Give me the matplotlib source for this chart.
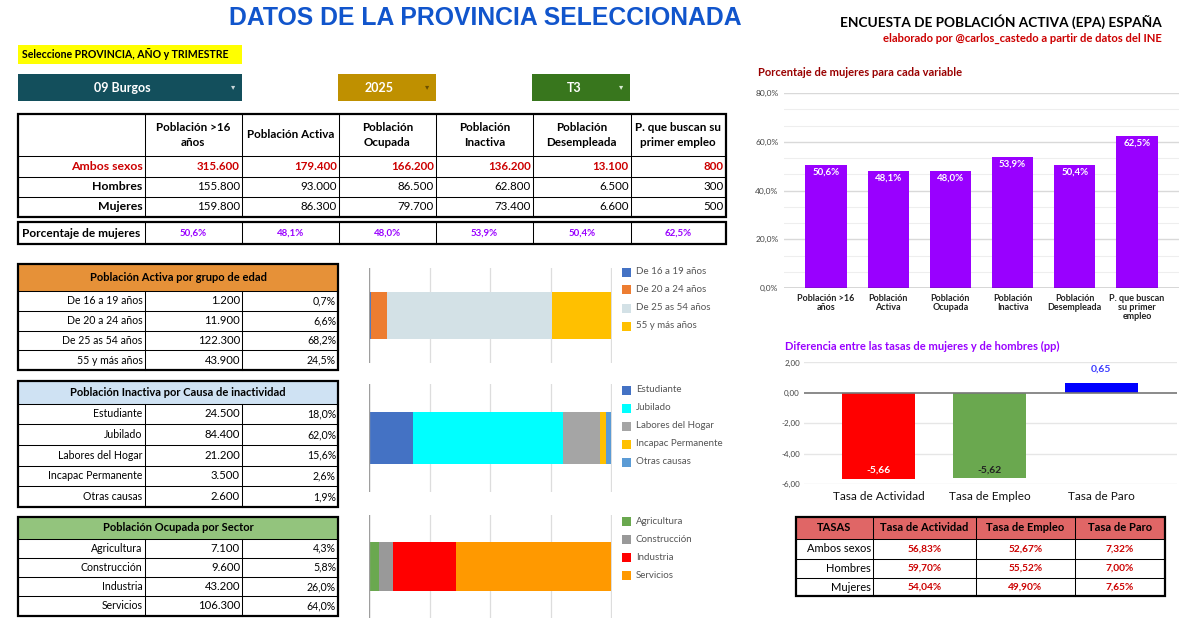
import matplotlib
matplotlib.use('Agg')
import matplotlib.pyplot as plt
from matplotlib.patches import Rectangle
from matplotlib.lines import Line2D
from matplotlib import font_manager

# ---------------- data ----------------
provincia = "09 Burgos"
anio = "2025"
trimestre = "T3"

main_headers = ["Población >16\naños", "Población Activa", "Población\nOcupada",
                "Población\nInactiva", "Población\nDesempleada", "P. que buscan su\nprimer empleo"]
row_labels = ["Ambos sexos", "Hombres", "Mujeres"]
ambos = [315600, 179400, 166200, 136200, 13100, 800]
hombres = [155800, 93000, 86500, 62800, 6500, 300]
mujeres = [159800, 86300, 79700, 73400, 6600, 500]
pct_mujeres = [50.6, 48.1, 48.0, 53.9, 50.4, 62.5]

edad_labels = ["De 16 a 19 años", "De 20 a 24 años", "De 25 as 54 años", "55 y más años"]
edad_vals = [1200, 11900, 122300, 43900]
edad_pct = [0.7, 6.6, 68.2, 24.5]

inact_labels = ["Estudiante", "Jubilado", "Labores del Hogar", "Incapac Permanente", "Otras causas"]
inact_vals = [24500, 84400, 21200, 3500, 2600]
inact_pct = [18.0, 62.0, 15.6, 2.6, 1.9]

sector_labels = ["Agricultura", "Construcción", "Industria", "Servicios"]
sector_vals = [7100, 9600, 43200, 106300]
sector_pct = [4.3, 5.8, 26.0, 64.0]

pct_chart_labels = ["Población >16\naños", "Población\nActiva", "Población\nOcupada",
                    "Población\nInactiva", "Población\nDesempleada", "P. que buscan\nsu primer\nempleo"]

tasas_cols = ["Tasa de Actividad", "Tasa de Empleo", "Tasa de Paro"]
tasa_actividad = [56.83, 59.70, 54.04]
tasa_empleo = [52.67, 55.52, 49.90]
tasa_paro = [7.32, 7.00, 7.65]
diferencia_pp = [-5.66, -5.62, 0.65]

# ---------------- styles ----------------
edad_colors = ['#4472C4', '#ED7D31', '#D3E1E6', '#FFC000']
inact_colors = ['#4472C4', '#00FFFF', '#A5A5A5', '#FFC000', '#5B9BD5']
sector_colors = ['#6AA84F', '#999999', '#FF0000', '#FF9900']
diff_colors = ['#FF0000', '#6AA84F', '#0000FF']

names = {f.name for f in font_manager.fontManager.ttflist}
FONT = 'Lato' if 'Lato' in names else 'DejaVu Sans'
plt.rcParams['font.family'] = [FONT, 'DejaVu Sans']

W, H = 1187, 629
fig = plt.figure(figsize=(W / 100, H / 100), dpi=100)
fig.patch.set_facecolor('white')


def miles(v):
    return f"{v:,}".replace(",", ".")


def pct1(v):
    return f"{v:.1f}".replace(".", ",") + "%"


def pct2(v):
    return f"{v:.2f}".replace(".", ",") + "%"


def dec2(v):
    return f"{v:.2f}".replace(".", ",")


def box(x0, y0, x1, y1, fc='none', ec='none', lw=0, z=1):
    fig.add_artist(Rectangle((x0 / W, 1 - y1 / H), (x1 - x0) / W, (y1 - y0) / H,
                             transform=fig.transFigure, fc=fc, ec=ec, lw=lw, zorder=z))


def hline(x0, x1, y, lw=0.75, c='black'):
    fig.add_artist(Line2D([x0 / W, x1 / W], [1 - y / H, 1 - y / H], transform=fig.transFigure,
                          color=c, lw=lw, zorder=3))


def vline(x, y0, y1, lw=0.75, c='black'):
    fig.add_artist(Line2D([x / W, x / W], [1 - y0 / H, 1 - y1 / H], transform=fig.transFigure,
                          color=c, lw=lw, zorder=3))


def T(x, y, s, size=8, color='black', weight='normal', ha='center', va='center', **kw):
    return fig.text(x / W, 1 - y / H, s, fontsize=size, color=color, fontweight=weight,
                    ha=ha, va=va, zorder=5, **kw)


def ax_at(x0, y0, x1, y1):
    return fig.add_axes([x0 / W, 1 - y1 / H, (x1 - x0) / W, (y1 - y0) / H])


# ---------------- header ----------------
T(485.5, 17.6, "DATOS DE LA PROVINCIA SELECCIONADA", size=17.8, color='#1155CC',
  weight='bold', family='Liberation Sans')
box(18, 45, 242, 63.5, fc='#FFFF00')
T(22, 54.5, "Seleccione PROVINCIA, AÑO y TRIMESTRE", size=7.6, weight='bold', ha='left')

for (x0, x1, fc, txt, ac, xc) in [(18, 242, '#134F5C', provincia, '#C9D6D9', 122.6),
                                  (338, 436, '#BF9000', anio, '#6B5000', 379.5),
                                  (532, 630, '#38761D', trimestre, '#D9EAD3', 574)]:
    box(x0, 74, x1, 101, fc=fc)
    T(xc, 88, txt, size=9, color='white', weight='bold')
    T(x1 - 9, 87, "▾", size=6, color=ac, family='DejaVu Sans')

T(1162, 22, "ENCUESTA DE POBLACIÓN ACTIVA (EPA) ESPAÑA", size=9.8, weight='bold', ha='right')
T(1162, 38.5, "elaborado por @carlos_castedo a partir de datos del INE", size=8.1,
  weight='bold', ha='right', color='#CC0000')

# ---------------- main table ----------------
cols = [18, 144.5, 242, 339, 436, 533, 630.5, 726]
rows = [114, 155.7, 176.7, 196.7, 216.7]
box(18, 114, 726, 216.7, ec='black', lw=1.6, z=4)
for x in cols[1:-1]:
    vline(x, 114, 216.7)
for y in rows[1:-1]:
    hline(18, 726, y)
for i, h in enumerate(main_headers):
    T((cols[i + 1] + cols[i + 2]) / 2, 135, h, size=8.4, weight='bold', linespacing=1.35)
row_styles = [('#CC0000', 'bold', 'bold'), ('black', 'bold', 'normal'), ('black', 'bold', 'normal')]
for r, (lab, vals) in enumerate(zip(row_labels, [ambos, hombres, mujeres])):
    yc = (rows[r + 1] + rows[r + 2]) / 2
    col, lw_lab, lw_val = row_styles[r]
    T(cols[1] - 2, yc, lab, size=8.8, weight=lw_lab, color=col, ha='right')
    for i, v in enumerate(vals):
        T(cols[i + 2] - 2, yc, miles(v), size=8.3, weight=lw_val, color=col, ha='right')

box(18, 222.5, 726, 244, ec='black', lw=1.6, z=4)
for x in cols[1:-1]:
    vline(x, 222.5, 244)
T(81, 233.5, "Porcentaje de mujeres", size=8.6, weight='bold')
for i, p in enumerate(pct_mujeres):
    T((cols[i + 1] + cols[i + 2]) / 2, 233.5, pct1(p), size=7, weight='bold', color='#9900FF')


# ---------------- section tables ----------------
def section(top, hdr_bot, bottom, title, fc, labels, vals, pcts):
    box(18, top, 338, hdr_bot, fc=fc)
    n = len(labels)
    edges = [hdr_bot + (bottom - hdr_bot) * k / n for k in range(n + 1)]
    box(18, top, 338, bottom, ec='black', lw=1.6, z=4)
    hline(18, 338, hdr_bot)
    for y in edges[1:-1]:
        hline(18, 338, y)
    vline(144.5, hdr_bot, bottom)
    vline(242, hdr_bot, bottom)
    T(178, (top + hdr_bot) / 2, title, size=8, weight='bold')
    for k in range(n):
        yc = (edges[k] + edges[k + 1]) / 2
        T(142.5, yc, labels[k], size=7.6, ha='right')
        T(240, yc, miles(vals[k]), size=8.2, ha='right')
        T(336, yc, pct1(pcts[k]), size=7.6, ha='right')


section(264, 291, 370, "Población Activa por grupo de edad", '#E69138', edad_labels, edad_vals, edad_pct)
section(380.5, 403.5, 507, "Población Inactiva por Causa de inactividad", '#CFE2F3',
        inact_labels, inact_vals, inact_pct)
section(517, 538.5, 615.5, "Población Ocupada por Sector", '#93C47D', sector_labels, sector_vals, sector_pct)


# ---------------- stacked bars ----------------
def stack_bar(top, bottom, bar_top, bar_bot, vals, colors, labels, leg_y0):
    ax = ax_at(369, top, 612, bottom)
    total = float(sum(vals))
    hgt = (bar_bot - bar_top) / (bottom - top)
    yc = 1 - ((bar_top + bar_bot) / 2 - top) / (bottom - top)
    left = 0.0
    for v, c in zip(vals, colors):
        share = v / total * 100
        ax.barh(yc, share, left=left, height=hgt, color=c, zorder=3)
        left += share
    for g in [25, 50, 75, 100]:
        ax.axvline(g, color='#DDDDDD', lw=0.9, zorder=1)
    ax.axvline(0, color='#9E9E9E', lw=1, zorder=4)
    ax.set_xlim(0, 100.4)
    ax.set_ylim(0, 1)
    ax.axis('off')
    for k, (lab, c) in enumerate(zip(labels, colors)):
        y = leg_y0 + 18 * k
        box(622, y - 4.5, 631, y + 4.5, fc=c)
        T(636, y, lab, size=7, color='#555555', ha='left')


stack_bar(268, 363, 292, 339, edad_vals, edad_colors, edad_labels, 272)
stack_bar(384, 492, 412, 464, inact_vals, inact_colors, inact_labels, 390)
stack_bar(515, 618, 542, 591, sector_vals, sector_colors, sector_labels, 521)

# ---------------- porcentaje de mujeres chart ----------------
T(757.5, 73, "Porcentaje de mujeres para cada variable", size=8, weight='bold',
  color='#990000', ha='left')
ax1 = ax_at(784, 93, 1179, 288)
xs = list(range(len(pct_mujeres)))
ax1.bar(xs, pct_mujeres, width=0.66, color='#9900FF', zorder=3)
ax1.set_xlim(-0.675, 5.675)
ax1.set_ylim(0, 80)
for k in range(1, 13):
    v = k * 20 / 3
    major = (k % 3 == 0)
    ax1.axhline(v, color='#D9D9D9' if major else '#EEEEEE', lw=1.0 if major else 0.8, zorder=1)
ax1.axhline(0, color='#333333', lw=1, zorder=4)
for s in ax1.spines.values():
    s.set_visible(False)
ax1.set_yticks([0, 20, 40, 60, 80])
ax1.set_yticklabels([pct1(v) for v in [0, 20, 40, 60, 80]], fontsize=6, color='#444444')
ax1.set_xticks(xs)
ax1.set_xticklabels(pct_chart_labels, fontsize=6.5, fontweight='bold', color='#222222',
                    linespacing=1.05)
ax1.tick_params(length=0, axis='y', pad=4)
ax1.tick_params(length=0, axis='x', pad=4)
for x, v in zip(xs, pct_mujeres):
    ax1.text(x, v - 3.0, pct1(v), ha='center', va='center', color='white', fontsize=7,
             fontweight='bold', zorder=5)

# ---------------- diferencia chart ----------------
T(784.6, 346.8, "Diferencia entre las tasas de mujeres y de hombres (pp)", size=8,
  weight='bold', color='#9900FF', ha='left')
ax2 = ax_at(804, 362.5, 1177, 484)
xs2 = list(range(len(diferencia_pp)))
ax2.bar(xs2, diferencia_pp, width=0.655, color=diff_colors, zorder=3)
ax2.set_xlim(-0.67, 2.68)
ax2.set_ylim(-6, 2)
for v in [2, -2, -4, -6]:
    ax2.axhline(v, color='#E6E6E6', lw=1, zorder=1)
ax2.axhline(0, color='#777777', lw=1.2, zorder=4)
for s in ax2.spines.values():
    s.set_visible(False)
ax2.set_yticks([2, 0, -2, -4, -6])
ax2.set_yticklabels([dec2(v) for v in [2, 0, -2, -4, -6]], fontsize=5.8, color='#444444')
ax2.set_xticks(xs2)
ax2.set_xticklabels(tasas_cols, fontsize=8.5, color='#111111')
ax2.tick_params(length=0, axis='y', pad=3)
ax2.tick_params(length=0, axis='x', pad=5)
lab_cols = ['white', '#222222', '#3C3CFF']
for x, v, c in zip(xs2, diferencia_pp, lab_cols):
    yy = v + 0.56 if v < 0 else v + 0.9
    ax2.text(x, yy, dec2(v), ha='center', va='center', color=c, fontsize=7.5,
             fontweight='bold', zorder=5)

# ---------------- tasas table ----------------
tc = [796, 873, 976.3, 1074.6, 1165]
tr = [516.7, 538.6, 559.4, 577.8, 596.3]
box(tc[0], tr[0], tc[-1], tr[1], fc='#E06666')
box(tc[0], tr[0], tc[-1], tr[-1], ec='black', lw=1.6, z=4)
for x in tc[1:-1]:
    vline(x, tr[0], tr[-1])
for y in tr[1:-1]:
    hline(tc[0], tc[-1], y)
T((tc[0] + tc[1]) / 2, (tr[0] + tr[1]) / 2, "TASAS", size=8, weight='bold')
for i, c in enumerate(tasas_cols):
    T((tc[i + 1] + tc[i + 2]) / 2, (tr[0] + tr[1]) / 2, c, size=8, weight='bold')
for r, lab in enumerate(row_labels):
    yc = (tr[r + 1] + tr[r + 2]) / 2
    T(tc[1] - 2, yc, lab, size=8, ha='right')
    for i, serie in enumerate([tasa_actividad, tasa_empleo, tasa_paro]):
        T((tc[i + 1] + tc[i + 2]) / 2, yc, pct2(serie[r]), size=7.3, weight='bold', color='#CC0000')

fig.savefig('out.png', dpi=100, facecolor='white')
